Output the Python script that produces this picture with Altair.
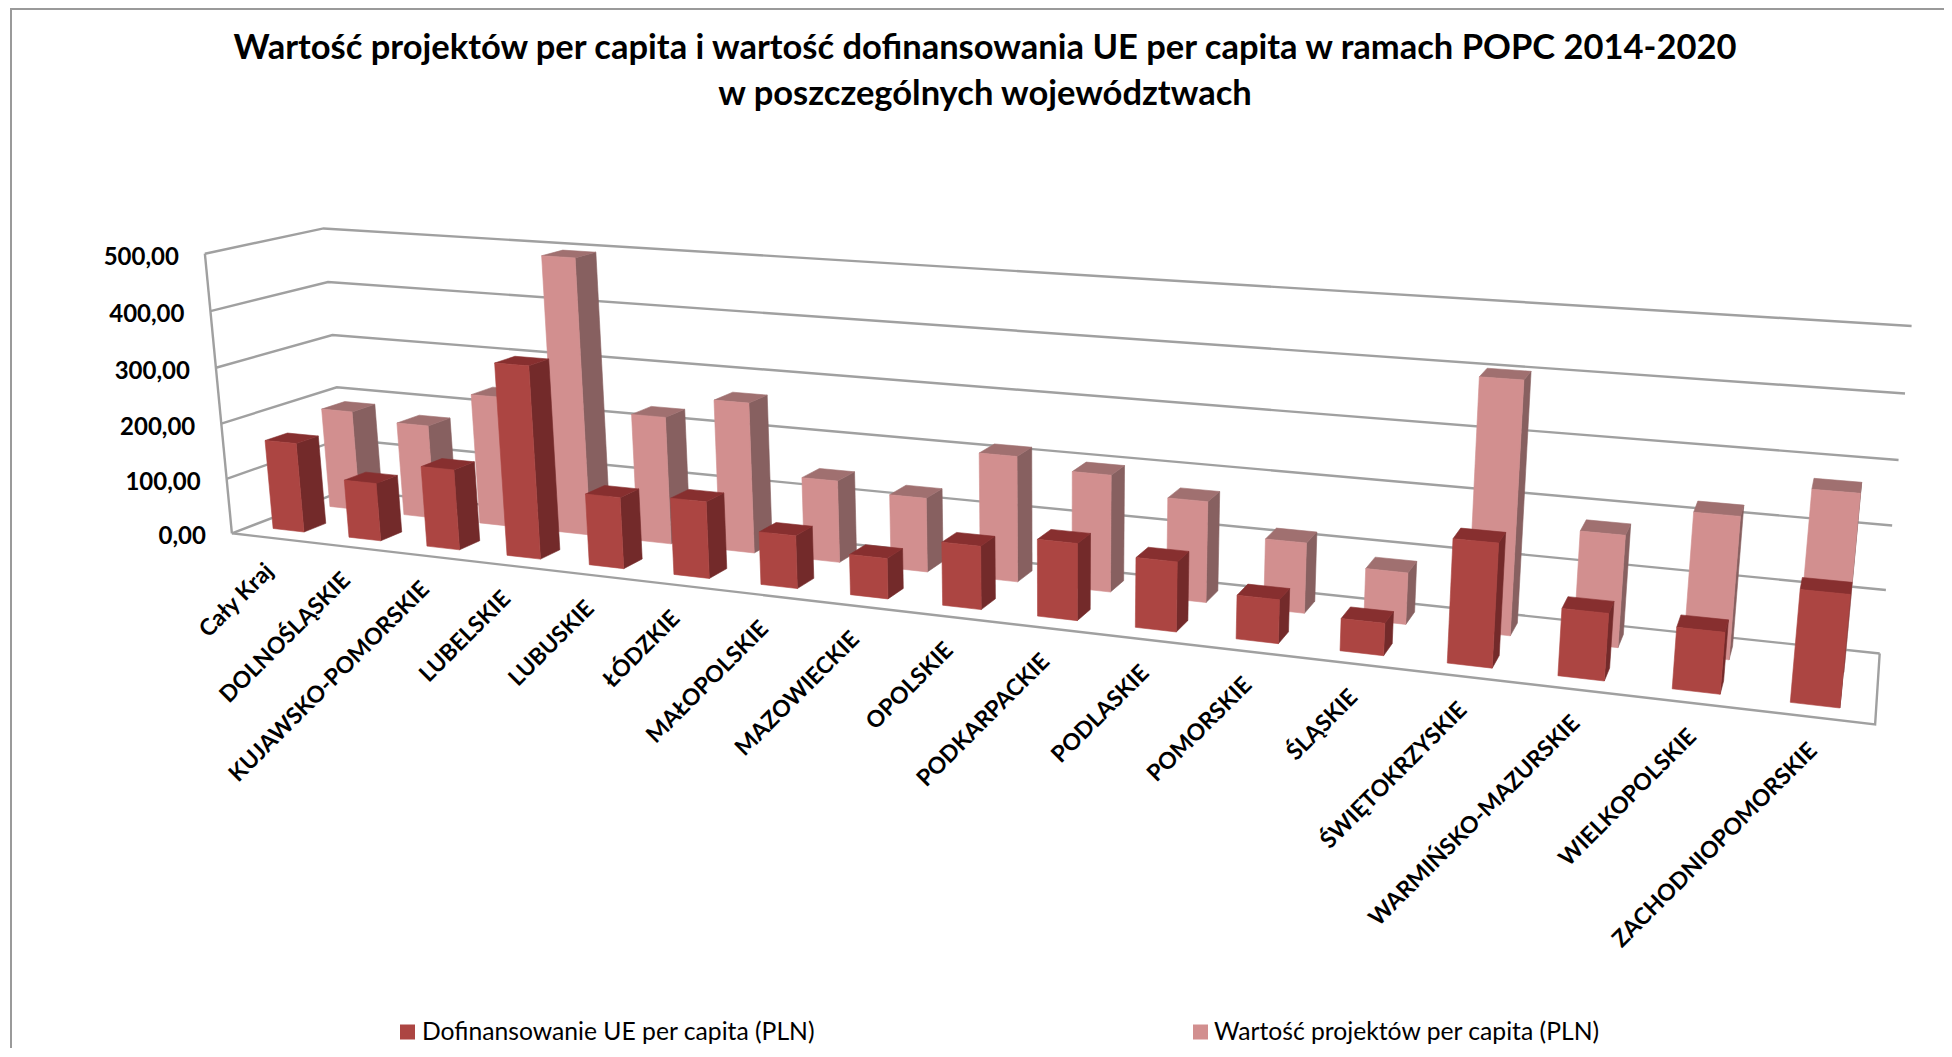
import altair as alt
import numpy as np
import pandas as pd

TITLE_LINES = ["Wartość projektów per capita i wartość dofinansowania UE per capita w ramach POPC 2014-2020",
               "w poszczególnych województwach"]
CATEGORIES = ["Cały Kraj", "DOLNOŚLĄSKIE", "KUJAWSKO-POMORSKIE", "LUBELSKIE", "LUBUSKIE", "ŁÓDZKIE",
              "MAŁOPOLSKIE", "MAZOWIECKIE", "OPOLSKIE", "PODKARPACKIE", "PODLASKIE", "POMORSKIE",
              "ŚLĄSKIE", "ŚWIĘTOKRZYSKIE", "WARMIŃSKO-MAZURSKIE", "WIELKOPOLSKIE", "ZACHODNIOPOMORSKIE"]
DOFINANSOWANIE = [162, 104, 143, 337, 124, 132, 90, 68, 105, 126, 113, 70, 51, 192, 103, 93, 167]
WARTOSC = [185, 172, 237, 495, 227, 265, 143, 128, 214, 197, 168, 116, 84, 402, 177, 222, 272]
TICKS = [0, 100, 200, 300, 400, 500]
TICK_LABELS = ["0,00", "100,00", "200,00", "300,00", "400,00", "500,00"]
LEGEND = ["Dofinansowanie UE per capita (PLN)", "Wartość projektów per capita (PLN)"]

# --- oblique camera calibrated on the frame of the 3-D box (u, v, h) -> page pixels
CAL = [
    (0, 0, 0, 231, 533), (0, 0, .2, 227.5, 478), (0, 0, .4, 222, 423), (0, 0, .6, 217, 367), (0, 0, .8, 210, 311), (0, 0, 1, 203.6, 255),
    (0, 1, 0, 345, 492), (0, 1, .2, 341, 439), (0, 1, .4, 336, 387), (0, 1, .6, 333, 335), (0, 1, .8, 328, 282), (0, 1, 1, 324, 228),
    (1, 1, 0, 1880, 652), (1, 1, .2, 1886, 589), (1, 1, .4, 1892, 526), (1, 1, .6, 1898, 460), (1, 1, .8, 1905, 394), (1, 1, 1, 1912, 326),
    (1, 0, 0, 1875, 726),
]
A, B = [], []
for u, v, h, px, py in CAL:
    A.append([u, v, h, 1, 0, 0, 0, 0, -px * u, -px * v, -px * h]); B.append(px)
    A.append([0, 0, 0, 0, u, v, h, 1, -py * u, -py * v, -py * h]); B.append(py)
P = np.append(np.linalg.lstsq(np.array(A, float), np.array(B, float), rcond=None)[0], 1.0).reshape(3, 4)


def proj(u, v, h):
    x, y, w = P @ np.array([u, v, h, 1.0])
    return float(x / w), float(y / w)


N = len(CATEGORIES)
BAR_FRAC = 0.41
V_FRONT = (0.16, 0.35)
V_BACK = (0.66, 0.87)
FRONT_COL = {"front": "#AC4542", "side": "#732A2A", "top": "#872F2F"}
BACK_COL = {"front": "#D28F8F", "side": "#876060", "top": "#A07070"}
GRID = "#A0A0A0"

XS = alt.Scale(domain=[8, 1944], range=[0, 1936], nice=False, zero=False)
YS = alt.Scale(domain=[8, 1048], range=[0, 1040], nice=False, zero=False)
xe = alt.X("x:Q", scale=XS, axis=None)
ye = alt.Y("y:Q", scale=YS, axis=None)


def faces(values, vr, face):
    rows = []
    for i, val in enumerate(values):
        u0 = (i + .5 - BAR_FRAC / 2) / N
        u1 = (i + .5 + BAR_FRAC / 2) / N
        h = val / 500
        v0, v1 = vr
        poly = {
            "front": [(u0, v0, 0), (u1, v0, 0), (u1, v0, h), (u0, v0, h)],
            "side": [(u1, v0, 0), (u1, v1, 0), (u1, v1, h), (u1, v0, h)],
            "top": [(u0, v0, h), (u1, v0, h), (u1, v1, h), (u0, v1, h)],
        }[face]
        for k, p in enumerate(poly + poly[:1]):
            x, y = proj(*p)
            rows.append({"bar": CATEGORIES[i], "k": k, "x": x, "y": y})
    return pd.DataFrame(rows)


def face_layer(values, vr, face, color):
    return alt.Chart(faces(values, vr, face)).mark_line(
        fill=color, stroke=color, strokeWidth=0.6, interpolate="linear"
    ).encode(x=xe, y=ye, detail="bar:N", order="k:Q")


def line_layer(rows, width=2.4, color=GRID):
    return alt.Chart(pd.DataFrame(rows)).mark_line(color=color, strokeWidth=width).encode(
        x=xe, y=ye, detail="id:N", order="k:Q")


grid_rows = []
for t in TICKS:
    h = t / 500
    for k, p in enumerate([(0, 0, h), (0, 1, h), (1, 1, h)]):
        x, y = proj(*p)
        grid_rows.append({"id": f"g{t}", "k": k, "x": x, "y": y})
for k, p in enumerate([(0, 0, 0), (0, 0, 1)]):
    x, y = proj(*p)
    grid_rows.append({"id": "wall", "k": k, "x": x, "y": y})
for k, p in enumerate([(0, 0, 0), (1, 0, 0), (1, 1, 0)]):
    x, y = proj(*p)
    grid_rows.append({"id": "floor", "k": k, "x": x, "y": y})

frame_rows = [{"id": "f", "k": 0, "x": 11, "y": 1048}, {"id": "f", "k": 1, "x": 11, "y": 9},
              {"id": "f", "k": 2, "x": 1944, "y": 9}]

layers = [line_layer(frame_rows, 2.0, "#9A9A9A"), line_layer(grid_rows)]
for vr, cols, vals in [(V_BACK, BACK_COL, WARTOSC), (V_FRONT, FRONT_COL, DOFINANSOWANIE)]:
    for f in ["side", "top", "front"]:
        layers.append(face_layer(vals, vr, f, cols[f]))

# y tick labels
ty = []
for t, lab in zip(TICKS, TICK_LABELS):
    x, y = proj(0, 0, t / 500)
    ty.append({"x": x - 26, "y": y + 4, "t": lab})
layers.append(alt.Chart(pd.DataFrame(ty)).mark_text(
    align="right", baseline="middle", font="Lato", fontWeight="bold", fontSize=24, color="#000000"
).encode(x=xe, y=ye, text="t:N"))

# category labels
cl = []
for i, c in enumerate(CATEGORIES):
    x, y = proj((i + .5) / N, 0, 0)
    cl.append({"x": x, "y": y + 30, "t": c})
layers.append(alt.Chart(pd.DataFrame(cl)).mark_text(
    align="right", baseline="middle", angle=315, font="Lato", fontWeight="bold", fontSize=23, color="#000000"
).encode(x=xe, y=ye, text="t:N"))

# title
tt = pd.DataFrame({"x": [985, 985], "y": [48.5, 94.5], "t": TITLE_LINES})
layers.append(alt.Chart(tt).mark_text(
    align="center", baseline="middle", font="Lato", fontWeight="bold", fontSize=34.5, color="#000000"
).encode(x=xe, y=ye, text="t:N"))

# legend
lg = pd.DataFrame({"x": [422, 1214], "y": [1033, 1033], "t": LEGEND})
layers.append(alt.Chart(lg).mark_text(
    align="left", baseline="middle", font="Lato", fontSize=24.7, color="#000000"
).encode(x=xe, y=ye, text="t:N"))
sw = pd.DataFrame({"x": [407.5, 1200.5], "y": [1032, 1032], "c": [FRONT_COL["front"], BACK_COL["front"]]})
layers.append(alt.Chart(sw).mark_point(shape="square", filled=True, size=225, opacity=1).encode(
    x=xe, y=ye, color=alt.Color("c:N", scale=None, legend=None)))

chart = alt.layer(*layers).properties(
    width=1936, height=1040, padding=0, autosize=alt.AutoSizeParams(type="none"),
    background="#FFFFFF",
).configure_view(stroke=None)

chart.save("out.html", embed_options={"renderer": "svg", "actions": False})
